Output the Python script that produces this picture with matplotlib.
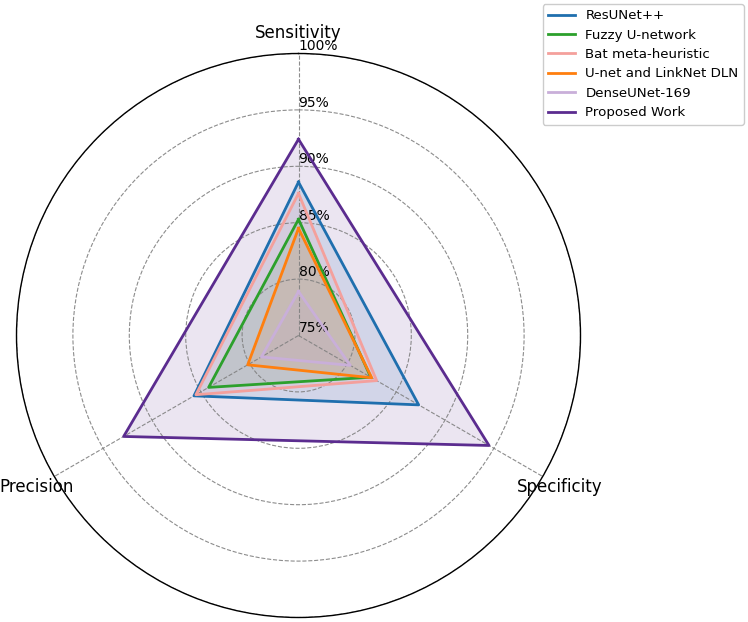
import numpy as np
import matplotlib
matplotlib.use("Agg")
import matplotlib.pyplot as plt

categories = ["Sensitivity", "Specificity", "Precision"]
methods = ["ResUNet++", "Fuzzy U-network", "Bat meta-heuristic",
           "U-net and LinkNet DLN", "DenseUNet-169", "Proposed Work"]
resunet = [88.6, 87.3, 85.7]
fuzzy = [85.3, 82.4, 84.2]
bat = [87.6, 83.0, 85.5]
unet_linknet = [84.5, 82.5, 80.2]
denseunet = [78.9, 80.3, 78.8]
proposed = [92.4, 94.5, 92.9]
series = [resunet, fuzzy, bat, unet_linknet, denseunet, proposed]
colors = ["#1f6fae", "#2ca02c", "#f4a09c", "#ff7f0e", "#c9afd9", "#5b2c8f"]
rticks = [75, 80, 85, 90, 95, 100]
rtick_labels = ["75%", "80%", "85%", "90%", "95%", "100%"]

fig = plt.figure(figsize=(7.48, 6.22), dpi=100)
ax = fig.add_axes([16.5 / 748, 4.5 / 622, 564 / 748, 564 / 622], projection="polar")
ax.set_theta_offset(np.pi / 2)
ax.set_theta_direction(-1)

angles = np.linspace(0, 2 * np.pi, len(categories), endpoint=False)
ang_closed = np.concatenate([angles, angles[:1]])

for name, vals, col in zip(methods, series, colors):
    v = np.concatenate([vals, vals[:1]])
    ax.plot(ang_closed, v, color=col, linewidth=2, label=name)
    ax.fill(ang_closed, v, color=col, alpha=0.12)

ax.set_ylim(75, 100)
ax.set_yticks(rticks)
ax.set_yticklabels(rtick_labels, fontsize=10)
ax.set_rlabel_position(0)
ax.set_xticks(angles)
ax.set_xticklabels(categories, fontsize=12)
ax.tick_params(axis="x", pad=4)
ax.grid(True, linestyle="--", color="gray", linewidth=0.8, alpha=0.9)
ax.spines["polar"].set_linewidth(1.0)

fig.legend(loc="upper right", bbox_to_anchor=(0.998, 0.998), fontsize=9.6,
           framealpha=1, borderaxespad=0.2, labelspacing=0.48)

fig.savefig("out.png", dpi=100)
